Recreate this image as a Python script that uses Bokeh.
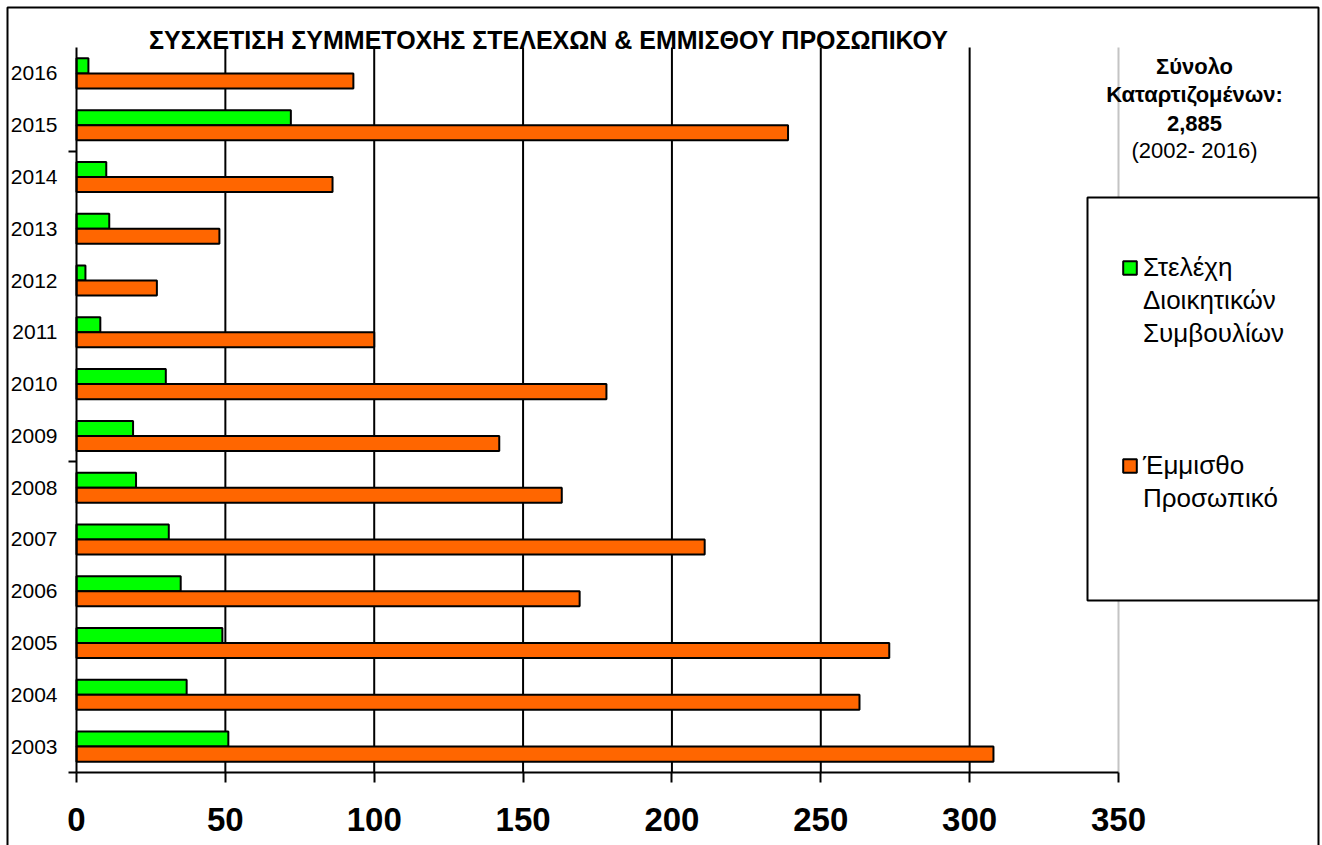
from bokeh.plotting import figure
from bokeh.models import (Range1d, FixedTicker, Label, Legend, LegendItem,
                          BoxAnnotation, ColumnDataSource)
from bokeh.transform import dodge
from bokeh.embed import file_html
from bokeh.resources import INLINE

# ---------------- data ----------------
years = ["2003", "2004", "2005", "2006", "2007", "2008", "2009",
         "2010", "2011", "2012", "2013", "2014", "2015", "2016"]
board_members = [51, 37, 49, 35, 31, 20, 19, 30, 8, 3, 11, 10, 72, 4]
salaried_staff = [308, 263, 273, 169, 211, 163, 142, 178, 100, 27, 48, 86, 239, 93]
x_ticks = [0, 50, 100, 150, 200, 250, 300, 350]

title_text = "ΣΥΣΧΕΤΙΣΗ ΣΥΜΜΕΤΟΧΗΣ ΣΤΕΛΕΧΩΝ & ΕΜΜΙΣΘΟΥ ΠΡΟΣΩΠΙΚΟΥ"
series_labels = [["Στελέχη", "Διοικητικών", "Συμβουλίων"],
                 ["Έμμισθο", "Προσωπικό"]]
note_lines = ["Σύνολο", "Καταρτιζομένων:", "2,885", "(2002- 2016)"]

# ---------------- layout constants (pixels) ----------------
FONT = "Liberation Sans, Arial, sans-serif"
GREEN = "#00ff00"
ORANGE = "#ff6600"
CANVAS_W, CANVAS_H = 1322, 845
AREA_L, AREA_R, AREA_T, AREA_B = 76, 1118, 47, 772   # plotting area inside canvas

n = len(years)
x_lo, x_hi = x_ticks[0], x_ticks[-1]
kx = (AREA_R - AREA_L) / (x_hi - x_lo)
ky = (AREA_B - AREA_T) / n
x_range = Range1d(x_lo - AREA_L / kx, x_hi + (CANVAS_W - AREA_R) / kx)
y_range = Range1d(-0.5 - (CANVAS_H - AREA_B) / ky, n - 0.5 + AREA_T / ky)

p = figure(width=CANVAS_W, height=CANVAS_H, output_backend="svg",
           toolbar_location=None, x_range=x_range, y_range=y_range,
           min_border=0)
p.min_border_left = p.min_border_right = p.min_border_top = p.min_border_bottom = 0
p.outline_line_color = None
p.background_fill_color = "white"
p.border_fill_color = "white"
p.xgrid.visible = False
p.ygrid.visible = False

# gridlines (drawn under the bars)
grid_src = ColumnDataSource(dict(x=x_ticks[1:-1],
                                 y0=[-0.5] * (len(x_ticks) - 2),
                                 y1=[n - 0.5] * (len(x_ticks) - 2)))
p.segment(x0="x", y0="y0", x1="x", y1="y1", source=grid_src,
          line_color="black", line_width=2)
edge_src = ColumnDataSource(dict(x=[x_hi], y0=[-0.5], y1=[n - 0.5]))
p.segment(x0="x", y0="y0", x1="x", y1="y1", source=edge_src,
          line_color="#c4c4c4", line_width=2)

src = ColumnDataSource(dict(pos=list(range(n)),
                            board=board_members, staff=salaried_staff))
g = p.hbar(y=dodge("pos", 0.145), left=0, right="board", height=0.29, source=src,
           fill_color=GREEN, line_color="black", line_width=2)
o = p.hbar(y=dodge("pos", -0.145), left=0, right="staff", height=0.29, source=src,
           fill_color=ORANGE, line_color="black", line_width=2)
dummy = p.hbar(y=[], right=[], height=0.29, fill_alpha=0, line_alpha=0)

# x axis
xa = p.xaxis[0]
xa.fixed_location = -0.5
xa.bounds = (x_lo, x_hi)
xa.ticker = FixedTicker(ticks=x_ticks)
xa.axis_line_width = 2
xa.major_tick_line_width = 2
xa.major_tick_out = 10
xa.major_tick_in = 0
xa.minor_tick_line_color = None
xa.major_label_text_font = FONT
xa.major_label_text_font_style = "bold"
xa.major_label_text_font_size = "33px"
xa.major_label_text_color = "black"
xa.major_label_standoff = 25

# y axis
ya = p.yaxis[0]
ya.fixed_location = x_lo
ya.bounds = (-0.5, n - 0.5)
ya.ticker = FixedTicker(ticks=list(range(n)),
                        minor_ticks=[i - 0.5 for i in range(0, n, 6)])
ya.major_label_overrides = {i: y for i, y in enumerate(years)}
ya.axis_line_width = 2
ya.major_tick_out = 0
ya.major_tick_in = 0
ya.minor_tick_out = 8
ya.minor_tick_in = 0
ya.minor_tick_line_width = 2
ya.major_label_text_font = FONT
ya.major_label_text_font_size = "21px"
ya.major_label_text_color = "black"
ya.major_label_standoff = 11

# outer border
p.add_layout(BoxAnnotation(left=7, right=1318, top=7, bottom=CANVAS_H + 20,
                           left_units="canvas", right_units="canvas",
                           top_units="canvas", bottom_units="canvas",
                           fill_alpha=0, line_color="black", line_alpha=1,
                           line_width=2))

# legend box
p.add_layout(BoxAnnotation(left=1087, right=1318, top=197, bottom=600,
                           left_units="canvas", right_units="canvas",
                           top_units="canvas", bottom_units="canvas",
                           fill_color="white", fill_alpha=1,
                           line_color="black", line_alpha=1, line_width=2))

items = []
for k, (r, lines) in enumerate(zip([g, o], series_labels)):
    if k:
        items += [LegendItem(label=" ", renderers=[dummy]) for _ in range(3)]
    items.append(LegendItem(label=lines[0], renderers=[r]))
    items += [LegendItem(label=t, renderers=[dummy]) for t in lines[1:]]

legend = Legend(items=items, location=(1121, 330), padding=0, spacing=0,
                label_height=33, glyph_height=17, glyph_width=17,
                label_standoff=5, border_line_color=None,
                background_fill_alpha=0, label_text_font=FONT,
                label_text_font_size="26px", label_text_color="black")
p.add_layout(legend)

# title
p.add_layout(Label(x=548, y=806, x_units="screen", y_units="screen",
                   text=title_text, text_align="center", text_baseline="alphabetic",
                   text_font=FONT, text_font_style="bold", text_font_size="25px",
                   text_color="black"))

# note on the right
note_y = [779, 751, 722, 695]
for i, (t, yy) in enumerate(zip(note_lines, note_y)):
    p.add_layout(Label(x=1194, y=yy, x_units="screen", y_units="screen",
                       text=t, text_align="center", text_baseline="alphabetic",
                       text_font=FONT,
                       text_font_style="bold" if i < 3 else "normal",
                       text_font_size="22px", text_color="black"))

open("out.html", "w").write(file_html(p, INLINE))
